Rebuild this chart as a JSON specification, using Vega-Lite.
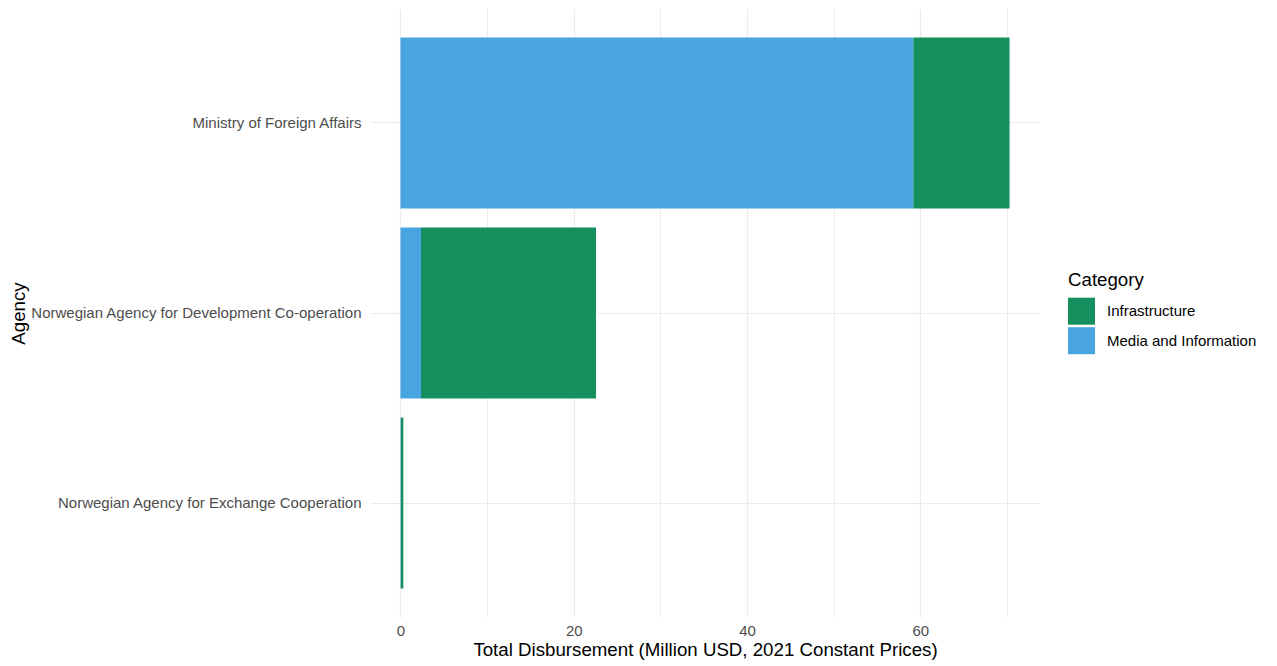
{
  "$schema": "https://vega.github.io/schema/vega-lite/v6.json",
  "width": 670,
  "height": 608,
  "autosize": {"type": "none"},
  "padding": {"left": 370, "top": 9, "right": 237, "bottom": 49},
  "background": "white",
  "config": {
    "font": "Liberation Sans",
    "view": {"stroke": null},
    "axis": {"domain": false, "ticks": false, "gridColor": "#EBEBEB"}
  },
  "data": {
    "values": [
      {"Agency": "Ministry of Foreign Affairs", "Category": "Media and Information", "Disbursement": 59.2},
      {"Agency": "Ministry of Foreign Affairs", "Category": "Infrastructure", "Disbursement": 11.1},
      {"Agency": "Norwegian Agency for Development Co-operation", "Category": "Media and Information", "Disbursement": 2.37},
      {"Agency": "Norwegian Agency for Development Co-operation", "Category": "Infrastructure", "Disbursement": 20.2},
      {"Agency": "Norwegian Agency for Exchange Cooperation", "Category": "Media and Information", "Disbursement": 0.05},
      {"Agency": "Norwegian Agency for Exchange Cooperation", "Category": "Infrastructure", "Disbursement": 0.28}
    ]
  },
  "mark": {"type": "bar"},
  "encoding": {
    "y": {
      "field": "Agency",
      "type": "nominal",
      "sort": "ascending",
      "scale": {"paddingInner": 0.1, "paddingOuter": 0.15},
      "axis": {
        "title": "Agency",
        "grid": true,
        "bandPosition": 0.5,
        "gridWidth": 1.2,
        "labelFontSize": 15,
        "labelColor": "#4D4D4D",
        "labelPadding": 9,
        "labelLimit": 500,
        "titleFontSize": 18.7,
        "titleFontWeight": "normal",
        "titleColor": "#000000",
        "titleX": -352,
        "titleY": 304,
        "titleAngle": 270,
        "titleAlign": "center",
        "titleBaseline": "middle"
      }
    },
    "x": {
      "field": "Disbursement",
      "type": "quantitative",
      "stack": "zero",
      "scale": {"domain": [-3.515, 73.815], "nice": false, "zero": false},
      "axis": {
        "title": "Total Disbursement (Million USD, 2021 Constant Prices)",
        "values": [0, 10, 20, 30, 40, 50, 60, 70],
        "labelExpr": "datum.value % 20 === 0 ? datum.label : ''",
        "grid": true,
        "gridWidth": {"condition": {"test": "datum.value % 20 === 0", "value": 1.2}, "value": 1},
        "labelFontSize": 15,
        "labelColor": "#4D4D4D",
        "labelPadding": 6,
        "titleFontSize": 18.7,
        "titleFontWeight": "normal",
        "titleColor": "#000000",
        "titlePadding": 2
      }
    },
    "color": {
      "field": "Category",
      "type": "nominal",
      "scale": {"domain": ["Infrastructure", "Media and Information"], "range": ["#168F5F", "#49A5E2"]},
      "legend": {
        "title": "Category",
        "orient": "none",
        "legendX": 698,
        "legendY": 262,
        "symbolType": "square",
        "symbolSize": 729,
        "symbolStrokeWidth": 0,
        "symbolOpacity": 1,
        "rowPadding": 2.5,
        "labelFontSize": 15,
        "labelColor": "#000000",
        "labelOffset": 12,
        "labelLimit": 300,
        "titleFontSize": 18.7,
        "titleFontWeight": "normal",
        "titleColor": "#000000",
        "titlePadding": 8
      }
    },
    "order": {"field": "Category", "sort": "descending"}
  }
}
